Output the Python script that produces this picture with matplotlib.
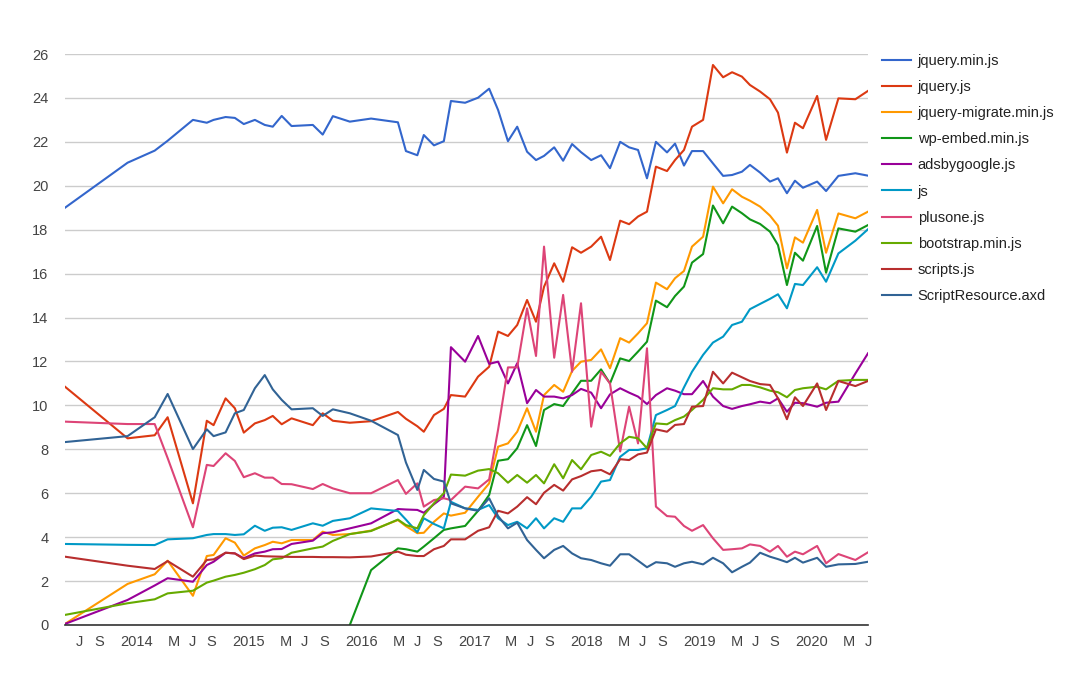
import matplotlib.pyplot as plt
import matplotlib.dates as mdates
import pandas as pd

nan = float('nan')

dates = pd.to_datetime([
    '2013-05-14', '2013-12-03', '2014-03-01', '2014-04-12', '2014-07-03', '2014-08-17', '2014-09-08', '2014-10-17', '2014-11-16', '2014-12-15',
    '2015-01-20', '2015-02-21', '2015-03-19', '2015-04-17', '2015-05-19', '2015-07-27', '2015-08-28', '2015-09-30', '2015-11-24', '2016-02-01',
    '2016-04-28', '2016-05-24', '2016-06-30', '2016-07-21', '2016-08-23', '2016-09-24', '2016-10-17', '2016-12-02', '2017-01-13', '2017-02-18',
    '2017-03-19', '2017-04-20', '2017-05-20', '2017-06-21', '2017-07-20', '2017-08-15', '2017-09-17', '2017-10-16', '2017-11-14', '2017-12-13',
    '2018-01-15', '2018-02-16', '2018-03-17', '2018-04-19', '2018-05-18', '2018-06-16', '2018-07-15', '2018-08-13', '2018-09-18', '2018-10-14',
    '2018-11-12', '2018-12-08', '2019-01-13', '2019-02-14', '2019-03-19', '2019-04-17', '2019-05-19', '2019-06-14', '2019-07-17', '2019-08-18',
    '2019-09-13', '2019-10-12', '2019-11-07', '2019-12-03', '2020-01-18', '2020-02-16', '2020-03-27', '2020-05-21', '2020-07-01'])

jquery_min = [19.0, 21.05, 21.6, 22.05, 23.0, 22.87, 23.0, 23.13, 23.09, 22.81,
              23.0, 22.77, 22.69, 23.18, 22.72, 22.77, 22.33, 23.17, 22.92, 23.06,
              22.89, 21.58, 21.39, 22.31, 21.84, 22.03, 23.86, 23.78, 24.01, 24.42,
              23.45, 22.03, 22.69, 21.55, 21.17, 21.36, 21.75, 21.14, 21.9, 21.53,
              21.17, 21.39, 20.8, 22.0, 21.75, 21.63, 20.34, 22.0, 21.52, 21.92,
              20.92, 21.58, 21.58, 21.02, 20.45, 20.49, 20.64, 20.95, 20.6, 20.19,
              20.34, 19.66, 20.23, 19.91, 20.19, 19.76, 20.45, 20.57, 20.46]
jquery = [10.85, 8.5, 8.64, 9.46, 5.54, 9.3, 9.1, 10.32, 9.87, 8.76,
          9.18, 9.33, 9.52, 9.14, 9.41, 9.1, 9.64, 9.3, 9.21, 9.28,
          9.7, 9.39, 9.05, 8.8, 9.56, 9.84, 10.47, 10.4, 11.31, 11.76,
          13.36, 13.16, 13.66, 14.8, 13.81, 15.4, 16.47, 15.63, 17.2, 16.95,
          17.23, 17.68, 16.62, 18.41, 18.25, 18.6, 18.82, 20.87, 20.67, 21.17,
          21.63, 22.69, 23.0, 25.5, 24.94, 25.17, 24.97, 24.59, 24.29, 23.94,
          23.33, 21.51, 22.87, 22.62, 24.09, 22.09, 23.98, 23.94, 24.32]
migrate = [0.05, 1.87, 2.31, 2.93, 1.33, 3.14, 3.19, 3.95, 3.75, 3.16,
           3.49, 3.64, 3.79, 3.72, 3.87, 3.87, 4.25, 4.1, 4.14, 4.3,
           4.78, 4.5, 4.18, 4.2, 4.7, 5.08, 4.98, 5.11, 5.84, 6.45,
           8.12, 8.27, 8.8, 9.87, 8.8, 10.47, 10.93, 10.62, 11.57, 11.99,
           12.07, 12.55, 11.69, 13.06, 12.86, 13.28, 13.74, 15.59, 15.29, 15.79,
           16.12, 17.23, 17.68, 19.96, 19.2, 19.84, 19.5, 19.32, 19.05, 18.64,
           18.18, 16.24, 17.65, 17.41, 18.9, 16.95, 18.74, 18.52, 18.82]
wp_embed = [nan, nan, nan, nan, nan, nan, nan, nan, nan, nan,
            nan, nan, nan, nan, nan, nan, nan, nan, 0.0, 2.5,
            3.49, 3.45, 3.34, 3.57, 3.95, 4.33, 4.4, 4.51, 5.2, 5.92,
            7.48, 7.55, 8.05, 9.1, 8.15, 9.79, 10.06, 9.97, 10.55, 11.12,
            11.12, 11.64, 11.0, 12.14, 12.02, 12.45, 12.9, 14.77, 14.47, 14.98,
            15.41, 16.5, 16.89, 19.1, 18.29, 19.05, 18.75, 18.47, 18.26, 17.91,
            17.3, 15.48, 16.95, 16.59, 18.17, 16.04, 18.06, 17.91, 18.21]
adsbygoogle = [0.05, 1.14, 1.8, 2.13, 1.97, 2.73, 2.88, 3.29, 3.26, 3.04,
               3.26, 3.34, 3.45, 3.46, 3.69, 3.84, 4.18, 4.22, 4.4, 4.63,
               5.28, 5.26, 5.24, 5.11, 5.5, 5.84, 12.65, 11.99, 13.16, 11.89,
               11.99, 11.0, 11.92, 10.1, 10.7, 10.4, 10.4, 10.32, 10.47, 10.75,
               10.58, 9.87, 10.5, 10.78, 10.58, 10.4, 10.06, 10.47, 10.78, 10.67,
               10.51, 10.51, 11.11, 10.4, 9.97, 9.84, 9.97, 10.05, 10.17, 10.1,
               10.32, 9.71, 10.12, 10.1, 9.94, 10.12, 10.17, 11.45, 12.37]
js = [3.69, 3.65, 3.64, 3.9, 3.95, 4.1, 4.14, 4.14, 4.1, 4.13,
      4.52, 4.29, 4.43, 4.45, 4.33, 4.63, 4.52, 4.74, 4.86, 5.31,
      5.19, 4.8, 4.22, 4.86, 4.6, 4.4, 5.61, 5.31, 5.24, 5.46,
      4.86, 4.55, 4.7, 4.4, 4.86, 4.4, 4.86, 4.7, 5.31, 5.31,
      5.84, 6.53, 6.6, 7.66, 7.97, 7.97, 8.05, 9.56, 9.79, 9.97,
      10.82, 11.53, 12.3, 12.86, 13.13, 13.66, 13.81, 14.38, 14.62, 14.85,
      15.06, 14.42, 15.53, 15.48, 16.29, 15.63, 16.92, 17.5, 18.02]
plusone = [9.26, 9.15, 9.15, 7.6, 4.45, 7.29, 7.24, 7.82, 7.47, 6.73,
           6.91, 6.71, 6.71, 6.42, 6.41, 6.19, 6.42, 6.22, 6.0, 6.0,
           6.6, 5.97, 6.45, 5.39, 5.69, 5.77, 5.69, 6.3, 6.22, 6.63,
           8.9, 11.73, 11.73, 14.42, 12.25, 17.23, 12.17, 15.03, 11.53, 14.65,
           9.03, 11.53, 11.0, 7.9, 9.94, 8.27, 12.6, 5.39, 4.96, 4.93,
           4.51, 4.29, 4.55, 3.95, 3.42, 3.45, 3.49, 3.67, 3.6, 3.34,
           3.6, 3.11, 3.34, 3.22, 3.6, 2.81, 3.23, 2.96, 3.31]
bootstrap = [0.46, 0.99, 1.17, 1.44, 1.56, 1.93, 2.02, 2.2, 2.28, 2.38,
             2.54, 2.73, 2.99, 3.04, 3.29, 3.49, 3.57, 3.83, 4.14, 4.28,
             4.8, 4.55, 4.4, 5.0, 5.54, 6.0, 6.85, 6.8, 7.03, 7.1,
             6.91, 6.48, 6.83, 6.48, 6.83, 6.45, 7.32, 6.68, 7.51, 7.09,
             7.74, 7.89, 7.7, 8.27, 8.57, 8.5, 8.05, 9.18, 9.14, 9.33,
             9.49, 9.79, 10.25, 10.78, 10.73, 10.73, 10.93, 10.93, 10.82, 10.67,
             10.6, 10.37, 10.7, 10.78, 10.85, 10.73, 11.12, 11.16, 11.16]
scripts = [3.11, 2.7, 2.55, 2.91, 2.2, 2.96, 2.99, 3.29, 3.26, 3.0,
           3.16, 3.13, 3.12, 3.11, 3.1, 3.1, 3.09, 3.09, 3.08, 3.12,
           3.34, 3.2, 3.14, 3.14, 3.45, 3.6, 3.9, 3.9, 4.29, 4.45,
           5.2, 5.08, 5.39, 5.82, 5.5, 6.02, 6.38, 6.12, 6.63, 6.78,
           7.0, 7.06, 6.86, 7.55, 7.51, 7.77, 7.85, 8.91, 8.8, 9.11,
           9.15, 9.94, 9.97, 11.53, 11.0, 11.49, 11.28, 11.11, 10.97, 10.93,
           10.32, 9.37, 10.37, 9.97, 11.0, 9.79, 11.11, 10.88, 11.11]
script_resource = [8.33, 8.6, 9.46, 10.52, 8.01, 8.91, 8.6, 8.77, 9.64, 9.79,
                   10.78, 11.38, 10.73, 10.25, 9.82, 9.87, 9.52, 9.82, 9.64, 9.3,
                   8.65, 7.4, 6.15, 7.06, 6.65, 6.53, 5.54, 5.31, 5.2, 5.77,
                   4.96, 4.4, 4.66, 3.87, 3.42, 3.04, 3.42, 3.6, 3.26, 3.04,
                   2.96, 2.81, 2.7, 3.22, 3.22, 2.93, 2.63, 2.86, 2.81, 2.65,
                   2.81, 2.88, 2.76, 3.06, 2.81, 2.4, 2.65, 2.84, 3.29, 3.11,
                   3.0, 2.86, 3.06, 2.84, 3.06, 2.65, 2.76, 2.78, 2.88]

series = [('jquery.min.js', jquery_min, '#3366cc'),
          ('jquery.js', jquery, '#dc3912'),
          ('jquery-migrate.min.js', migrate, '#ff9900'),
          ('wp-embed.min.js', wp_embed, '#109618'),
          ('adsbygoogle.js', adsbygoogle, '#990099'),
          ('js', js, '#0099c6'),
          ('plusone.js', plusone, '#dd4477'),
          ('bootstrap.min.js', bootstrap, '#66aa00'),
          ('scripts.js', scripts, '#b82e2e'),
          ('ScriptResource.axd', script_resource, '#316395')]

plt.rcParams['font.family'] = ['Liberation Sans', 'DejaVu Sans']

fig = plt.figure(figsize=(10.76, 6.73), dpi=100)
ax = fig.add_axes([65 / 1076, 1 - 625 / 673, (868 - 65) / 1076, (625 - 54) / 673])

for name, vals, color in series:
    ax.plot(dates, vals, color=color, lw=1.5, label=name, solid_joinstyle='round')

ax.set_ylim(0, 26)
ax.set_yticks(range(0, 27, 2))
ax.set_xlim(dates[0], dates[-1])

# month ticks: J S <year> M J S ...
ticks, labels = [], []
for yr in range(2013, 2021):
    for m, lab in [(1, str(yr)), (5, 'M'), (7, 'J'), (9, 'S')]:
        d = pd.Timestamp(yr, m, 1)
        if dates[0] <= d <= dates[-1]:
            ticks.append(d)
            labels.append(lab)
ax.set_xticks(ticks)
ax.set_xticklabels(labels)

ax.grid(axis='y', color='#cccccc', lw=1)
ax.set_axisbelow(True)
for s in ['top', 'right', 'left']:
    ax.spines[s].set_visible(False)
ax.spines['bottom'].set_color('#333333')
ax.spines['bottom'].set_linewidth(1.2)
ax.tick_params(axis='both', length=0, labelsize=10.5, colors='#444444')
ax.tick_params(axis='y', pad=12)
ax.tick_params(axis='x', pad=7)

fig.legend(loc='upper left', bbox_to_anchor=(882 / 1076, 1 - 54 / 673),
           frameon=False, fontsize=10.5, labelspacing=0.83, handlelength=2.0,
           handletextpad=0.45, borderpad=0, borderaxespad=0, labelcolor='#222222')

fig.savefig('out.png', dpi=100)
